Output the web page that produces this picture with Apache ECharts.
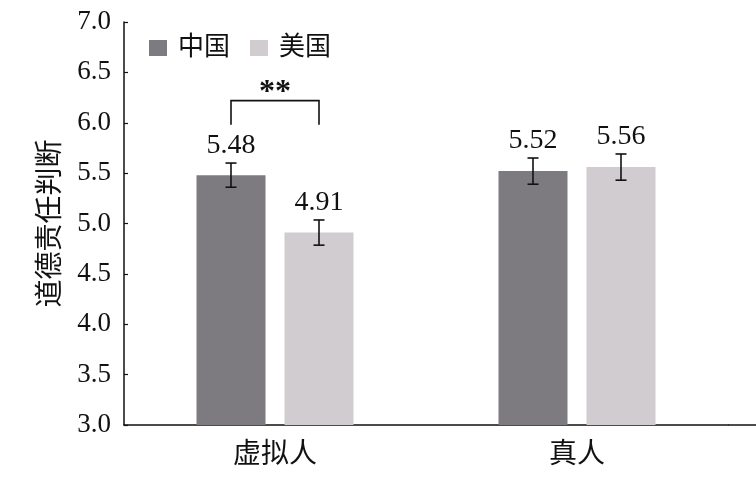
<!DOCTYPE html>
<html>
<head>
<meta charset="utf-8">
<script src="https://cdn.jsdelivr.net/npm/echarts@6/dist/echarts.min.js"></script>
<style>html,body{margin:0;padding:0;background:#fff;}#c{width:756px;height:482px;}</style>
</head>
<body>
<div id="c"></div>
<script>
var categories = ['虚拟人', '真人'];
var seriesNames = ['中国', '美国'];
var chinaValues = [5.48, 5.52];
var usaValues = [4.91, 5.56];
var chinaErrors = [0.12, 0.13];
var usaErrors = [0.125, 0.13];
var yTicks = { min: 3, max: 7, interval: 0.5 };
var sigCategory = 0;
var sigBracketTop = 6.22;
var sigBracketBottom = 5.98;
var sigText = '**';

var FONT = '"Liberation Serif", "Noto Sans CJK SC", serif';
var colors = ['#7e7b80', '#d0ccd0'];
var BAR_W = 69, BAR_GAP_PX = 19;
var offsets = [-(BAR_W + BAR_GAP_PX) / 2, (BAR_W + BAR_GAP_PX) / 2];

var chart = echarts.init(document.getElementById('c'));

function errData(vals, errs) {
  return vals.map(function (v, i) { return [i, v, errs[i]]; });
}

function errSeries(k, vals, errs) {
  return {
    type: 'custom',
    name: seriesNames[k] + '_err',
    z: 5,
    data: errData(vals, errs),
    encode: { x: 0, y: 1 },
    renderItem: function (params, api) {
      var ci = api.value(0), v = api.value(1), e = api.value(2);
      var top = api.coord([ci, v + e]);
      var bot = api.coord([ci, v - e]);
      var x = top[0] + offsets[k];
      var cap = 5.5;
      var st = { stroke: '#111', lineWidth: 1.6 };
      return {
        type: 'group',
        children: [
          { type: 'line', shape: { x1: x, y1: top[1], x2: x, y2: bot[1] }, style: st },
          { type: 'line', shape: { x1: x - cap, y1: top[1], x2: x + cap, y2: top[1] }, style: st },
          { type: 'line', shape: { x1: x - cap, y1: bot[1], x2: x + cap, y2: bot[1] }, style: st },
          { type: 'text', style: { x: x, y: top[1] - 3, text: v.toFixed(2), textAlign: 'center', textVerticalAlign: 'bottom', font: '28px ' + FONT, fill: '#111' } }
        ]
      };
    },
    silent: true
  };
}

var option = {
  animation: false,
  backgroundColor: '#fff',
  grid: { left: 124, right: 28, top: 22, bottom: 57 },
  legend: {
    data: seriesNames,
    left: 144, top: 30,
    itemWidth: 18, itemHeight: 16,
    itemGap: 20,
    icon: 'rect',
    textStyle: { fontSize: 26, fontFamily: FONT, color: '#111', padding: [0, 0, 0, 6] }
  },
  xAxis: {
    type: 'category',
    data: categories,
    axisLine: { lineStyle: { color: '#111', width: 1.5 } },
    axisTick: { show: false },
    axisLabel: { fontSize: 28, fontFamily: FONT, color: '#111', margin: 17 }
  },
  yAxis: {
    type: 'value',
    min: yTicks.min, max: yTicks.max, interval: yTicks.interval,
    name: '道德责任判断',
    nameLocation: 'middle',
    nameRotate: 90,
    nameGap: 58,
    nameTextStyle: { fontSize: 28, fontFamily: FONT, color: '#111' },
    axisLine: { show: true, lineStyle: { color: '#111', width: 1.5 } },
    axisTick: { show: true, inside: true, length: 4, lineStyle: { color: '#111', width: 1.2 } },
    splitLine: { show: false },
    axisLabel: { fontSize: 27, fontFamily: FONT, color: '#111', margin: 13, formatter: function (v) { return v.toFixed(1); } }
  },
  series: [
    { type: 'bar', name: seriesNames[0], data: chinaValues, barWidth: BAR_W, barGap: (BAR_GAP_PX / BAR_W * 100) + '%', itemStyle: { color: colors[0] } },
    { type: 'bar', name: seriesNames[1], data: usaValues, barWidth: BAR_W, itemStyle: { color: colors[1] } },
    errSeries(0, chinaValues, chinaErrors),
    errSeries(1, usaValues, usaErrors),
    {
      type: 'custom',
      z: 6,
      silent: true,
      data: [[sigCategory, sigBracketTop, sigBracketBottom]],
      encode: { x: 0, y: 1 },
      renderItem: function (params, api) {
        var ci = api.value(0);
        var t = api.coord([ci, api.value(1)]);
        var b = api.coord([ci, api.value(2)]);
        var x1 = t[0] + offsets[0], x2 = t[0] + offsets[1];
        var st = { stroke: '#111', lineWidth: 1.6, fill: null };
        return {
          type: 'group',
          children: [
            { type: 'polyline', shape: { points: [[x1, b[1]], [x1, t[1]], [x2, t[1]], [x2, b[1]]] }, style: st },
            { type: 'text', style: { x: t[0], y: t[1] - 8, text: sigText, textAlign: 'center', textVerticalAlign: 'middle', font: 'bold 32px ' + FONT, fill: '#111' } }
          ]
        };
      }
    }
  ],
  graphic: []
};
chart.setOption(option);
var gridRect = chart.getModel().getComponent('grid').coordinateSystem.getRect();
chart.setOption({
  graphic: [{
    type: 'line', z: 10,
    shape: { x1: gridRect.x + gridRect.width, y1: gridRect.y + gridRect.height, x2: 756, y2: gridRect.y + gridRect.height },
    style: { stroke: '#111', lineWidth: 1.5 }
  }]
});
</script>
</body>
</html>
